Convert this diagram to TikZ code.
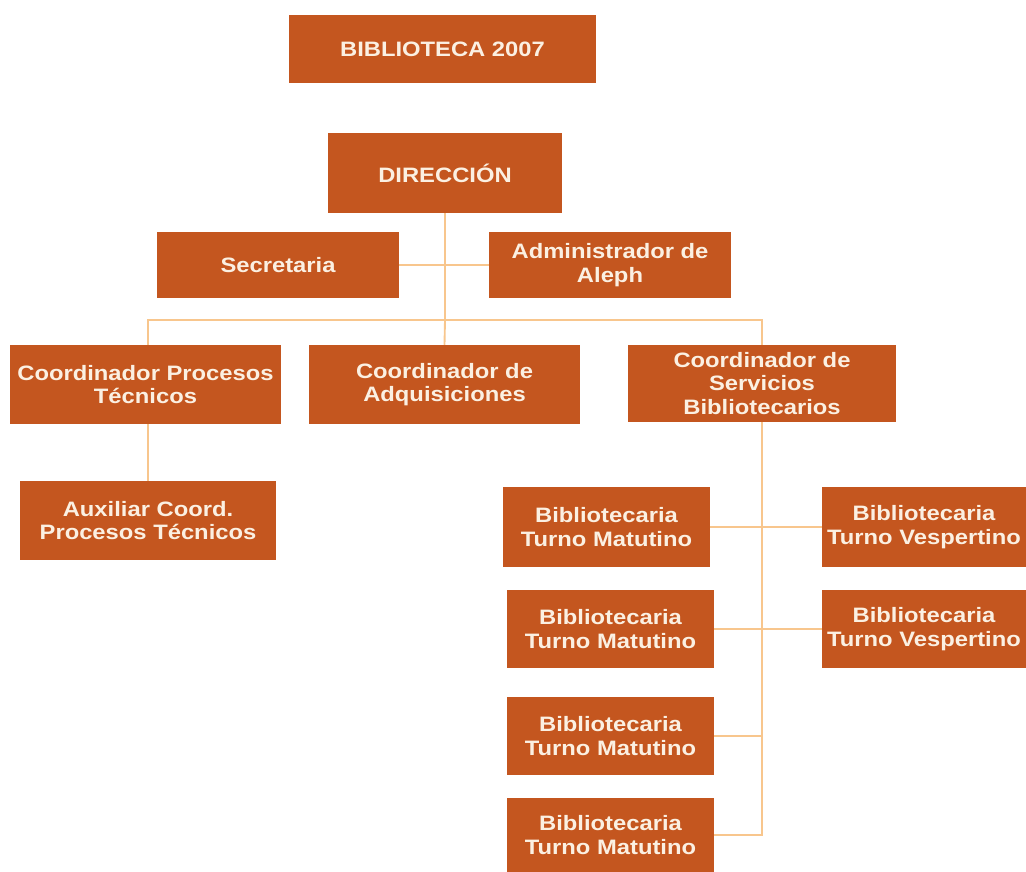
\documentclass[tikz,border=0pt]{standalone}
\usepackage{fontspec}
\setmainfont{Liberation Sans}[FakeStretch=1.14]
\usetikzlibrary{positioning, calc}
\definecolor{boxfill}{HTML}{C4561F}
\definecolor{boxtext}{HTML}{FBF0E2}
\definecolor{linkline}{HTML}{F8C68D}

\tikzset{
  unit/.style={draw=none, fill=boxfill, text=boxtext, align=center,
               font=\fontsize{17.8}{20}\selectfont\bfseries,
               inner sep=0pt},
  link/.style={draw=linkline, line width=1.6pt}
}

\begin{document}
\begin{tikzpicture}[x=0.03cm, y=-0.03cm]
  \useasboundingbox (0,0) rectangle (1026,872);
  % top row
  \node[unit, minimum width=9.21cm, minimum height=2.04cm] (bib) at (442.5,49) {BIBLIOTECA 2007};
  \node[unit, minimum width=7.02cm, minimum height=2.4cm] (dir) at (445,173) {DIRECCIÓN};
  \node[unit, minimum width=7.26cm, minimum height=1.98cm] (sec) at (278,265) {Secretaria};
  \node[unit, minimum width=7.26cm, minimum height=1.98cm] (adm) at (610,265) {Administrador de\\Aleph};
  % coordinators
  \node[unit, minimum width=8.13cm, minimum height=2.37cm] (cpt) at (145.5,384.5) {Coordinador Procesos\\Técnicos};
  \node[unit, minimum width=8.13cm, minimum height=2.37cm] (cad) at (444.5,384.5) {Coordinador de\\Adquisiciones};
  \node[unit, minimum width=8.04cm, minimum height=2.31cm] (csb) at (762,383.5) {Coordinador de\\Servicios\\Bibliotecarios};
  \node[unit, minimum width=7.68cm, minimum height=2.37cm] (aux) at (148,520.5) {Auxiliar Coord.\\Procesos Técnicos};
  % librarians
  \node[unit, minimum width=6.21cm, minimum height=2.4cm] (tm1) at (606.5,527) {Bibliotecaria\\Turno Matutino};
  \node[unit, minimum width=6.12cm, minimum height=2.4cm] (tv1) at (924,527) {Bibliotecaria\\Turno Vespertino};
  \node[unit, minimum width=6.21cm, minimum height=2.34cm] (tm2) at (610.5,629) {Bibliotecaria\\Turno Matutino};
  \node[unit, minimum width=6.12cm, minimum height=2.34cm] (tv2) at (924,629) {Bibliotecaria\\Turno Vespertino};
  \node[unit, minimum width=6.21cm, minimum height=2.34cm] (tm3) at (610.5,736) {Bibliotecaria\\Turno Matutino};
  \node[unit, minimum width=6.21cm, minimum height=2.22cm] (tm4) at (610.5,835) {Bibliotecaria\\Turno Matutino};

  % links
  \coordinate (bus) at (445,320);
  \draw[link] (dir.south) -- (bus);
  \draw[link] (sec.east) -- (adm.west);
  \draw[link] (aux.north |- cpt.north) |- (bus) -| (csb.north);
  \draw[link] (bus) -- (cad.north);
  \draw[link] (aux.north |- cpt.south) -- (aux.north);
  \draw[link] (tm1.east) -- (tv1.west);
  \draw[link] (tm2.east) -- (tv2.west);
  \draw[link] (tm3.east) -| (csb.south);
  \draw[link] (tm4.east) -| (csb.south);
\end{tikzpicture}
\end{document}
